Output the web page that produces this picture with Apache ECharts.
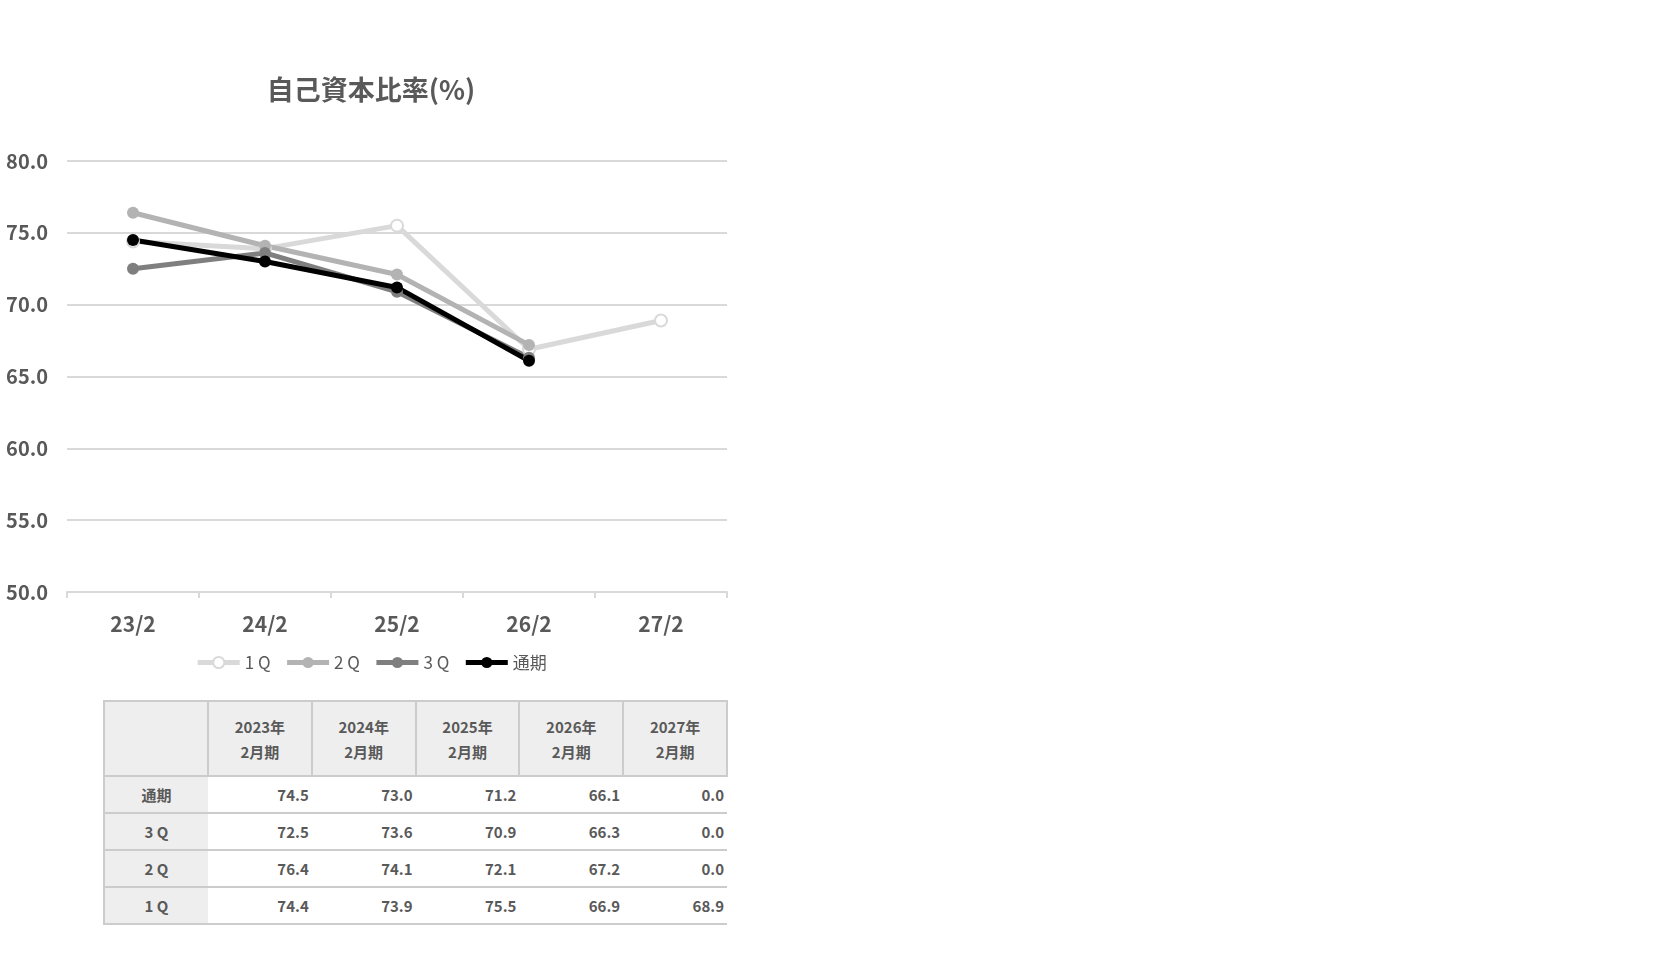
<!DOCTYPE html>
<html lang="ja">
<head>
    <meta charset="utf-8">
    <title>自己資本比率</title>
    <script src="https://cdn.jsdelivr.net/npm/echarts@6/dist/echarts.min.js"></script>
    <style>
        html, body { margin: 0; padding: 0; background: #fff; width: 1666px; height: 962px; overflow: hidden; }
        body { font-family: "Noto Sans CJK JP", "Noto Sans", sans-serif; position: relative; }
        #chart { position: absolute; left: 0; top: 0; width: 742px; height: 700px; }
        #tbl { position: absolute; left: 103px; top: 700px; width: 625px; table-layout: fixed; border-collapse: collapse; color: #595959; font-size: 15px; font-weight: bold; }
        #tbl td, #tbl th { padding: 0; }
        #tbl th { background: #eeeeee; border: 2px solid #cccccc; height: 73px; line-height: 25px; font-weight: bold; }
        #tbl td { height: 35px; border-top: 2px solid #cccccc; border-bottom: 2px solid #cccccc; text-align: right; padding-right: 3px; }
        #tbl td.lbl { background: #eeeeee; text-align: center; padding-right: 0; border-left: 2px solid #cccccc; }
    </style>
</head>
<body>
    <div id="chart"></div>
    <table id="tbl">
        <colgroup><col style="width:104px"><col><col><col><col><col></colgroup>
    </table>

    <script>
        // 決算期
        var categories = ['23/2', '24/2', '25/2', '26/2', '27/2'];
        var headYears = ['2023年', '2024年', '2025年', '2026年', '2027年'];
        var seriesNames = ['1 Q', '2 Q', '3 Q', '通期'];
        // 自己資本比率（%）  0.0 = 未確定
        var q1 = [74.4, 73.9, 75.5, 66.9, 68.9];
        var q2 = [76.4, 74.1, 72.1, 67.2, 0.0];
        var q3 = [72.5, 73.6, 70.9, 66.3, 0.0];
        var full = [74.5, 73.0, 71.2, 66.1, 0.0];
        var yTicks = { min: 50, max: 80, interval: 5 };

        var colors = ['#d9d9d9', '#b3b3b3', '#7f7f7f', '#000000'];
        var textColor = '#595959';

        function plotData(arr) {
            return arr.map(function (v) { return v === 0 ? null : v; });
        }

        function lineSeries(name, data, color, hollow) {
            return {
                name: name,
                type: 'line',
                data: plotData(data),
                symbol: 'circle',
                symbolSize: 12,
                showAllSymbol: true,
                lineStyle: { color: color, width: 5 },
                itemStyle: {
                    color: hollow ? '#ffffff' : color,
                    borderColor: color,
                    borderWidth: hollow ? 2 : 0
                },
                emphasis: { disabled: true }
            };
        }

        var myChart = echarts.init(document.getElementById('chart'));
        var option = {
            animation: false,
            title: {
                text: '自己資本比率(%)',
                left: 'center',
                top: 71,
                textStyle: { color: textColor, fontSize: 27, fontWeight: 'bold', fontFamily: 'Noto Sans CJK JP' }
            },
            legend: {
                top: 649,
                left: 'center',
                itemWidth: 42,
                itemHeight: 14,
                itemGap: 14,
                data: seriesNames,
                lineStyle: { width: 5 },
                textStyle: { color: textColor, fontSize: 17, fontFamily: 'Noto Sans CJK JP' }
            },
            grid: {
                left: 67,
                right: 15,
                top: 161,
                bottom: 108
            },
            xAxis: {
                type: 'category',
                data: categories,
                axisLine: { lineStyle: { color: '#d9d9d9', width: 2 } },
                axisTick: { show: true, length: 6, lineStyle: { color: '#d9d9d9', width: 2 } },
                axisLabel: {
                    color: textColor, fontSize: 21, fontWeight: 'bold', margin: 22,
                    fontFamily: 'Noto Sans CJK JP'
                }
            },
            yAxis: {
                type: 'value',
                min: yTicks.min,
                max: yTicks.max,
                interval: yTicks.interval,
                axisLine: { show: false },
                axisTick: { show: false },
                splitLine: { lineStyle: { color: '#d9d9d9', width: 2 } },
                axisLabel: {
                    color: textColor, fontSize: 20, fontWeight: 'bold', margin: 19,
                    fontFamily: 'Noto Sans CJK JP',
                    formatter: function (v) { return v.toFixed(1); }
                }
            },
            series: [
                lineSeries(seriesNames[0], q1, colors[0], true),
                lineSeries(seriesNames[1], q2, colors[1], false),
                lineSeries(seriesNames[2], q3, colors[2], false),
                lineSeries(seriesNames[3], full, colors[3], false)
            ]
        };
        myChart.setOption(option);

        // 下の数値表
        var rows = [
            { name: '通期', data: full },
            { name: '3 Q', data: q3 },
            { name: '2 Q', data: q2 },
            { name: '1 Q', data: q1 }
        ];
        var html = '<tr><th></th>';
        for (var i = 0; i < headYears.length; i++) {
            html += '<th>' + headYears[i] + '<br>2月期</th>';
        }
        html += '</tr>';
        for (var r = 0; r < rows.length; r++) {
            html += '<tr><td class="lbl">' + rows[r].name + '</td>';
            for (var j = 0; j < rows[r].data.length; j++) {
                html += '<td>' + rows[r].data[j].toFixed(1) + '</td>';
            }
            html += '</tr>';
        }
        document.getElementById('tbl').insertAdjacentHTML('beforeend', html);
    </script>
</body>
</html>
